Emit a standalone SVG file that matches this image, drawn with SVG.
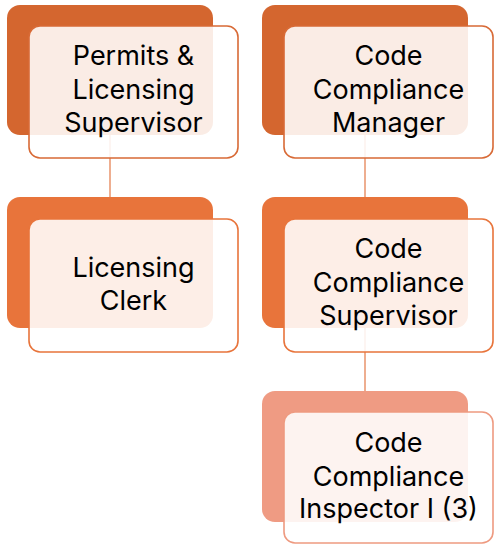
<svg xmlns="http://www.w3.org/2000/svg" width="494" height="544" viewBox="0 0 494 544">
<style>
.t{font-family:Inter,"Liberation Sans",sans-serif;font-size:27px;fill:#000;text-anchor:middle}
.front{fill:#fff;fill-opacity:0.88;stroke-width:1.6}
.c{stroke:#E9936B;stroke-width:1.5;fill:none}
</style>
<rect width="494" height="544" fill="#fff"/>
<g id="connectors">
<line class="c" x1="110" y1="135" x2="110" y2="197"/>
<line class="c" x1="365" y1="135" x2="365" y2="197"/>
<line class="c" x1="365" y1="328" x2="365" y2="391"/>
</g>
<g id="n1">
<rect x="7" y="5" width="206" height="130" rx="13" fill="#D4662F"/>
<rect class="front" x="29" y="26" width="209" height="132" rx="11" stroke="#D86A36"/>
<text class="t" x="133.5" y="65">Permits &amp;</text>
<text class="t" x="133.5" y="99">Licensing</text>
<text class="t" x="133.5" y="132">Supervisor</text>
</g>
<g id="n2">
<rect x="7" y="197" width="206" height="131" rx="13" fill="#E8743B"/>
<rect class="front" x="29" y="219" width="209" height="133" rx="11" stroke="#E8743B"/>
<text class="t" x="133.5" y="277">Licensing</text>
<text class="t" x="133.5" y="310">Clerk</text>
</g>
<g id="n3">
<rect x="262" y="5" width="206" height="130" rx="13" fill="#D4662F"/>
<rect class="front" x="284" y="26" width="209" height="132" rx="11" stroke="#D86A36"/>
<text class="t" x="388.5" y="65">Code</text>
<text class="t" x="388.5" y="99">Compliance</text>
<text class="t" x="388.5" y="132">Manager</text>
</g>
<g id="n4">
<rect x="262" y="197" width="206" height="131" rx="13" fill="#E8743B"/>
<rect class="front" x="284" y="219" width="209" height="133" rx="11" stroke="#E8743B"/>
<text class="t" x="388.5" y="258">Code</text>
<text class="t" x="388.5" y="292">Compliance</text>
<text class="t" x="388.5" y="325">Supervisor</text>
</g>
<g id="n5">
<rect x="262" y="391" width="206" height="131" rx="13" fill="#EF9B83"/>
<rect class="front" x="284" y="412" width="209" height="131" rx="11" stroke="#EE9A80"/>
<text class="t" x="388.5" y="452">Code</text>
<text class="t" x="388.5" y="486">Compliance</text>
<text class="t" x="388.5" y="518">Inspector I (3)</text>
</g>
</svg>
